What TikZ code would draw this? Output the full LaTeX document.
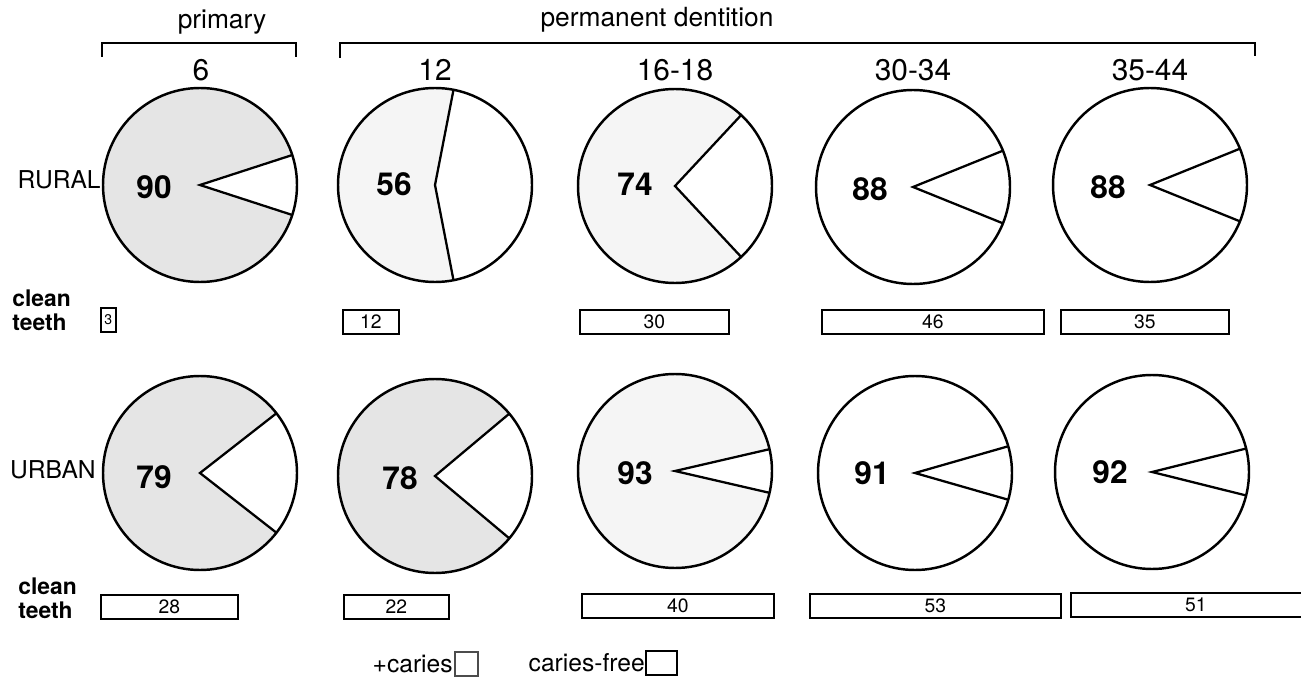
\documentclass[tikz,border=0pt]{standalone}
\usepackage{fontspec}
\setmainfont{TeX Gyre Heros}
\tikzset{
  rim/.style = {draw, line width=1.4pt},
  cut/.style = {line width=1.3pt, line join=miter},
  pct/.style = {font=\fontsize{18}{18}\selectfont\bfseries},
  age/.style = {font=\fontsize{17}{17}\selectfont},
  head/.style = {font=\fontsize{15}{15}\selectfont},
  row/.style = {font=\fontsize{14}{14}\selectfont, anchor=east, inner sep=0pt},
  cleanlbl/.style = {font=\fontsize{13}{13.5}\selectfont\bfseries, align=left,
                     anchor=west, inner sep=0pt},
  bar/.style = {draw, line width=1pt, anchor=west, minimum height=0.48cm,
                inner sep=0pt, font=\fontsize{11}{11}\selectfont},
  key/.style = {font=\fontsize{14}{14}\selectfont, inner sep=0pt, anchor=east}
}

\begin{document}
\begin{tikzpicture}[x=0.02cm, y=0.02cm]
	\def \r{97}
	\def \dense{black!10}
	\def \light{black!4}
	\clip (0,0) rectangle (1301,677);
	\fill[white] (0,0) rectangle (1301,677);

	% Headings
	\node[head] (prim) at (222,655) {primary};
	\node[head] (perm) at (657,657) {permanent dentition};
	\draw[line width=1pt] (102,620) -- (102,634) -- (296,634) -- (296,620);
	\draw[line width=1pt] (340,619) -- (340,634) -- (1255,634) -- (1255,621);

	% Age groups
	\node[age] (a6)  at (201,607) {6};
	\node[age] (a12) at (435,607) {12};
	\node[age] (a16) at (675,607) {16-18};
	\node[age] (a30) at (913,607) {30-34};
	\node[age] (a35) at (1150,607) {35-44};

	% Rows
	\node[row] (rural) at (101,497) {RURAL};
	\node[row] (urban) at (96,207) {URBAN};

	% Centres
	\coordinate (r6)  at (200,492);
	\coordinate (r12) at (435,492);
	\coordinate (r16) at (675,491);
	\coordinate (r30) at (913,490);
	\coordinate (r35) at (1150,492);
	\coordinate (u6)  at (200,204);
	\coordinate (u12) at (435,201);
	\coordinate (u16) at (675,206);
	\coordinate (u30) at (915,204);
	\coordinate (u35) at (1152,205);

	% Rural pies (+caries shaded, caries-free wedge open)
	\fill[\dense] (r6) circle (\r);
	\fill[white] (r6) -- ++(18:\r) arc (18:-18:\r) -- cycle;
	\draw[rim] (r6) circle (\r);
	\draw[cut] ([shift={(18:\r)}]r6) -- (r6) -- ([shift={(-18:\r)}]r6);

	\fill[\light] (r12) circle (\r);
	\fill[white] (r12) -- ++(79:\r) arc (79:-79:\r) -- cycle;
	\draw[rim] (r12) circle (\r);
	\draw[cut] ([shift={(79:\r)}]r12) -- (r12) -- ([shift={(-79:\r)}]r12);

	\fill[\light] (r16) circle (\r);
	\fill[white] (r16) -- ++(47:\r) arc (47:-47:\r) -- cycle;
	\draw[rim] (r16) circle (\r);
	\draw[cut] ([shift={(47:\r)}]r16) -- (r16) -- ([shift={(-47:\r)}]r16);

	\draw[rim] (r30) circle (\r);
	\draw[cut] ([shift={(22:\r)}]r30) -- (r30) -- ([shift={(-22:\r)}]r30);

	\draw[rim] (r35) circle (\r);
	\draw[cut] ([shift={(22:\r)}]r35) -- (r35) -- ([shift={(-22:\r)}]r35);

	% Urban pies
	\fill[\dense] (u6) circle (\r);
	\fill[white] (u6) -- ++(38:\r) arc (38:-38:\r) -- cycle;
	\draw[rim] (u6) circle (\r);
	\draw[cut] ([shift={(38:\r)}]u6) -- (u6) -- ([shift={(-38:\r)}]u6);

	\fill[\dense] (u12) circle (\r);
	\fill[white] (u12) -- ++(40:\r) arc (40:-40:\r) -- cycle;
	\draw[rim] (u12) circle (\r);
	\draw[cut] ([shift={(40:\r)}]u12) -- (u12) -- ([shift={(-40:\r)}]u12);

	\fill[\light] (u16) circle (\r);
	\fill[white] (u16) -- ++(13:\r) arc (13:-13:\r) -- cycle;
	\draw[rim] (u16) circle (\r);
	\draw[cut] ([shift={(13:\r)}]u16) -- (u16) -- ([shift={(-13:\r)}]u16);

	\draw[rim] (u30) circle (\r);
	\draw[cut] ([shift={(16:\r)}]u30) -- (u30) -- ([shift={(-16:\r)}]u30);

	\draw[rim] (u35) circle (\r);
	\draw[cut] ([shift={(14:\r)}]u35) -- (u35) -- ([shift={(-14:\r)}]u35);

	% Percentages
	\node[pct] (p90) at (154,490) {90};
	\node[pct] (p56) at (394,493) {56};
	\node[pct] (p74) at (635,493) {74};
	\node[pct] (p88a) at (870,488) {88};
	\node[pct] (p88b) at (1108,490) {88};
	\node[pct] (p79) at (154,200) {79};
	\node[pct] (p78) at (400,199) {78};
	\node[pct] (p93) at (635,204) {93};
	\node[pct] (p91) at (872,204) {91};
	\node[pct] (p92) at (1110,205) {92};

	% Clean teeth
	\node[cleanlbl] (cr) at (12,367) {clean\\teeth};
	\node[cleanlbl] (cu) at (18,79) {clean\\teeth};
	\node[bar, minimum width=0.30cm, font=\fontsize{8}{8}\selectfont] (br6) at (100,357) {3};
	\node[bar, minimum width=1.12cm] (br12) at (342,355) {12};
	\node[bar, minimum width=2.98cm] (br16) at (579,355) {30};
	\node[bar, minimum width=4.44cm] (br30) at (821,355) {46};
	\node[bar, minimum width=3.36cm] (br35) at (1060,355) {35};
	\node[bar, minimum width=2.74cm] (bu6) at (100,70) {28};
	\node[bar, minimum width=2.10cm] (bu12) at (343,70) {22};
	\node[bar, minimum width=3.84cm] (bu16) at (581,71) {40};
	\node[bar, minimum width=5.02cm] (bu30) at (809,71) {53};
	\node[bar, minimum width=5.00cm] (bu35) at (1070,72) {51};

	% Key
	\node[key] (kc) at (453,13) {+caries};
	\draw[line width=0.7pt, black!70] (455,1) rectangle (478,25);
	\node[key] (kf) at (645,14) {caries-free};
	\draw[line width=1pt] (646,2) rectangle (677,26);
\end{tikzpicture}
\end{document}
